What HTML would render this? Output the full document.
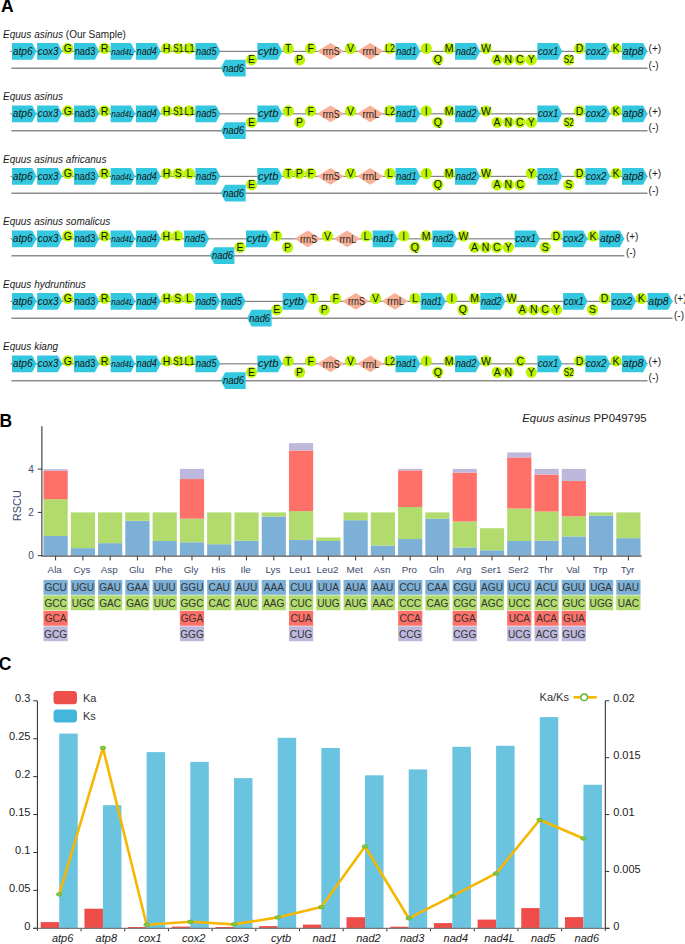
<!DOCTYPE html>
<html><head><meta charset="utf-8"><style>
html,body{margin:0;padding:0;background:#fff;}
svg{display:block;font-family:"Liberation Sans",sans-serif;}
</style></head><body>
<svg width="685" height="944" viewBox="0 0 685 944">
<text x="3" y="37.7" font-size="10" fill="#1a1a1a"><tspan font-style="italic">Equus asinus</tspan><tspan> (Our Sample)</tspan></text>
<line x1="10.5" y1="51.35" x2="647.5" y2="51.35" stroke="#5a5a5a" stroke-width="0.9"/>
<line x1="11.4" y1="68.2" x2="647.5" y2="68.2" stroke="#8c8c8c" stroke-width="1.5"/>
<polygon points="12,43 32.2,43 36.6,51.35 32.2,59.7 12,59.7" fill="#33C8DF"/>
<text x="12.7" y="54.7" font-size="10.5" font-style="italic" textLength="20" lengthAdjust="spacingAndGlyphs" fill="#141414">atp6</text>
<polygon points="37.1,43 57.8,43 62.2,51.35 57.8,59.7 37.1,59.7" fill="#33C8DF"/>
<text x="37.8" y="54.7" font-size="10.5" font-style="italic" textLength="20.5" lengthAdjust="spacingAndGlyphs" fill="#141414">cox3</text>
<circle cx="67.8" cy="48.45" r="5.6" fill="#BCF500"/>
<text x="67.8" y="52.05" font-size="10.5" text-anchor="middle" fill="#141414">G</text>
<polygon points="74,43 94.8,43 99.2,51.35 94.8,59.7 74,59.7" fill="#33C8DF"/>
<text x="74.7" y="54.7" font-size="10.5" font-style="normal" textLength="20.6" lengthAdjust="spacingAndGlyphs" fill="#141414">nad3</text>
<circle cx="104.5" cy="48.45" r="5.6" fill="#BCF500"/>
<text x="104.5" y="52.05" font-size="10.5" text-anchor="middle" fill="#141414">R</text>
<polygon points="110.6,43 130.9,43 135.3,51.35 130.9,59.7 110.6,59.7" fill="#33C8DF"/>
<text x="111.3" y="54.7" font-size="9" font-style="italic" textLength="22.2" lengthAdjust="spacingAndGlyphs" fill="#141414">nad4L</text>
<polygon points="135.9,43 156.4,43 160.8,51.35 156.4,59.7 135.9,59.7" fill="#33C8DF"/>
<text x="136.6" y="54.7" font-size="10.5" font-style="italic" textLength="20.3" lengthAdjust="spacingAndGlyphs" fill="#141414">nad4</text>
<circle cx="166.6" cy="48.45" r="5.6" fill="#BCF500"/>
<text x="166.6" y="52.05" font-size="10.5" text-anchor="middle" fill="#141414">H</text>
<circle cx="178.2" cy="48.45" r="5.6" fill="#BCF500"/>
<text x="173.3" y="52.05" font-size="11" textLength="10" lengthAdjust="spacingAndGlyphs" fill="#141414">S1</text>
<circle cx="189.3" cy="48.45" r="5.6" fill="#BCF500"/>
<text x="184.4" y="52.05" font-size="11" textLength="10" lengthAdjust="spacingAndGlyphs" fill="#141414">L1</text>
<polygon points="195.4,43 216,43 220.4,51.35 216,59.7 195.4,59.7" fill="#33C8DF"/>
<text x="196.1" y="54.7" font-size="10.5" font-style="italic" textLength="20.4" lengthAdjust="spacingAndGlyphs" fill="#141414">nad5</text>
<polygon points="220.8,68.05 225.2,59.7 245.7,59.7 245.7,76.4 225.2,76.4" fill="#33C8DF"/>
<text x="222.9" y="71.8" font-size="10.5" font-style="italic" textLength="21.3" lengthAdjust="spacingAndGlyphs" fill="#141414">nad6</text>
<circle cx="251.5" cy="59.8" r="5.6" fill="#BCF500"/>
<text x="251.5" y="63.4" font-size="10.5" text-anchor="middle" fill="#141414">E</text>
<polygon points="257.3,43 277.9,43 282.3,51.35 277.9,59.7 257.3,59.7" fill="#33C8DF"/>
<text x="258" y="54.7" font-size="10.5" font-style="italic" textLength="20.4" lengthAdjust="spacingAndGlyphs" fill="#141414">cytb</text>
<circle cx="288.2" cy="48.45" r="5.6" fill="#BCF500"/>
<text x="288.2" y="52.05" font-size="10.5" text-anchor="middle" fill="#141414">T</text>
<circle cx="299.6" cy="59.8" r="5.6" fill="#BCF500"/>
<text x="299.6" y="63.4" font-size="10.5" text-anchor="middle" fill="#141414">P</text>
<circle cx="310.6" cy="48.45" r="5.6" fill="#BCF500"/>
<text x="310.6" y="52.05" font-size="10.5" text-anchor="middle" fill="#141414">F</text>
<polygon points="317.1,51.35 330.55,43 344,51.35 330.55,59.7" fill="#F8B097"/>
<text x="322.85" y="55.1" font-size="10" textLength="16.8" lengthAdjust="spacingAndGlyphs" fill="#222">rrnS</text>
<circle cx="350.6" cy="48.45" r="5.6" fill="#BCF500"/>
<text x="350.6" y="52.05" font-size="10.5" text-anchor="middle" fill="#141414">V</text>
<polygon points="357,51.35 370.2,43 383.4,51.35 370.2,59.7" fill="#F8B097"/>
<text x="362.5" y="55.1" font-size="10" textLength="16.8" lengthAdjust="spacingAndGlyphs" fill="#222">rrnL</text>
<circle cx="389.8" cy="48.45" r="5.6" fill="#BCF500"/>
<text x="384.9" y="52.05" font-size="11" textLength="10" lengthAdjust="spacingAndGlyphs" fill="#141414">L2</text>
<polygon points="395.5,43 416,43 420.4,51.35 416,59.7 395.5,59.7" fill="#33C8DF"/>
<text x="396.2" y="54.7" font-size="10.5" font-style="italic" textLength="20.3" lengthAdjust="spacingAndGlyphs" fill="#141414">nad1</text>
<circle cx="426.3" cy="48.45" r="5.6" fill="#BCF500"/>
<text x="426.3" y="52.05" font-size="10.5" text-anchor="middle" fill="#141414">I</text>
<circle cx="437.8" cy="59.8" r="5.6" fill="#BCF500"/>
<text x="437.8" y="63.4" font-size="10.5" text-anchor="middle" fill="#141414">Q</text>
<circle cx="449.1" cy="48.45" r="5.6" fill="#BCF500"/>
<text x="449.1" y="52.05" font-size="10.5" text-anchor="middle" fill="#141414">M</text>
<polygon points="455,43 475.8,43 480.2,51.35 475.8,59.7 455,59.7" fill="#33C8DF"/>
<text x="455.7" y="54.7" font-size="10.5" font-style="italic" textLength="20.6" lengthAdjust="spacingAndGlyphs" fill="#141414">nad2</text>
<circle cx="486" cy="48.45" r="5.6" fill="#BCF500"/>
<text x="486" y="52.05" font-size="10.5" text-anchor="middle" fill="#141414">W</text>
<circle cx="497.1" cy="59.8" r="5.6" fill="#BCF500"/>
<text x="497.1" y="63.4" font-size="10.5" text-anchor="middle" fill="#141414">A</text>
<circle cx="508.4" cy="59.8" r="5.6" fill="#BCF500"/>
<text x="508.4" y="63.4" font-size="10.5" text-anchor="middle" fill="#141414">N</text>
<circle cx="519.9" cy="59.8" r="5.6" fill="#BCF500"/>
<text x="519.9" y="63.4" font-size="10.5" text-anchor="middle" fill="#141414">C</text>
<circle cx="531.3" cy="59.8" r="5.6" fill="#BCF500"/>
<text x="531.3" y="63.4" font-size="10.5" text-anchor="middle" fill="#141414">Y</text>
<polygon points="537.3,43 557.9,43 562.3,51.35 557.9,59.7 537.3,59.7" fill="#33C8DF"/>
<text x="538" y="54.7" font-size="10.5" font-style="italic" textLength="20.4" lengthAdjust="spacingAndGlyphs" fill="#141414">cox1</text>
<circle cx="568.7" cy="59.8" r="5.6" fill="#BCF500"/>
<text x="563.8" y="63.4" font-size="11" textLength="10" lengthAdjust="spacingAndGlyphs" fill="#141414">S2</text>
<circle cx="579.5" cy="48.45" r="5.6" fill="#BCF500"/>
<text x="579.5" y="52.05" font-size="10.5" text-anchor="middle" fill="#141414">D</text>
<polygon points="585.3,43 605.9,43 610.3,51.35 605.9,59.7 585.3,59.7" fill="#33C8DF"/>
<text x="586" y="54.7" font-size="10.5" font-style="italic" textLength="20.4" lengthAdjust="spacingAndGlyphs" fill="#141414">cox2</text>
<circle cx="616.1" cy="48.45" r="5.6" fill="#BCF500"/>
<text x="616.1" y="52.05" font-size="10.5" text-anchor="middle" fill="#141414">K</text>
<polygon points="622,43 643.1,43 647.5,51.35 643.1,59.7 622,59.7" fill="#33C8DF"/>
<text x="622.7" y="54.7" font-size="10.5" font-style="italic" textLength="20.9" lengthAdjust="spacingAndGlyphs" fill="#141414">atp8</text>
<text x="648.6" y="52.1" font-size="10" fill="#1a1a1a">(+)</text>
<text x="648.6" y="68.8" font-size="10" fill="#1a1a1a">(-)</text>
<text x="3" y="100.2" font-size="10" fill="#1a1a1a"><tspan font-style="italic">Equus asinus</tspan></text>
<line x1="10.5" y1="113.85" x2="647.5" y2="113.85" stroke="#5a5a5a" stroke-width="0.9"/>
<line x1="11.4" y1="130.7" x2="647.5" y2="130.7" stroke="#8c8c8c" stroke-width="1.5"/>
<polygon points="12,105.5 32.2,105.5 36.6,113.85 32.2,122.2 12,122.2" fill="#33C8DF"/>
<text x="12.7" y="117.2" font-size="10.5" font-style="italic" textLength="20" lengthAdjust="spacingAndGlyphs" fill="#141414">atp6</text>
<polygon points="37.1,105.5 57.8,105.5 62.2,113.85 57.8,122.2 37.1,122.2" fill="#33C8DF"/>
<text x="37.8" y="117.2" font-size="10.5" font-style="italic" textLength="20.5" lengthAdjust="spacingAndGlyphs" fill="#141414">cox3</text>
<circle cx="67.8" cy="110.95" r="5.6" fill="#BCF500"/>
<text x="67.8" y="114.55" font-size="10.5" text-anchor="middle" fill="#141414">G</text>
<polygon points="74,105.5 94.8,105.5 99.2,113.85 94.8,122.2 74,122.2" fill="#33C8DF"/>
<text x="74.7" y="117.2" font-size="10.5" font-style="normal" textLength="20.6" lengthAdjust="spacingAndGlyphs" fill="#141414">nad3</text>
<circle cx="104.5" cy="110.95" r="5.6" fill="#BCF500"/>
<text x="104.5" y="114.55" font-size="10.5" text-anchor="middle" fill="#141414">R</text>
<polygon points="110.6,105.5 130.9,105.5 135.3,113.85 130.9,122.2 110.6,122.2" fill="#33C8DF"/>
<text x="111.3" y="117.2" font-size="9" font-style="italic" textLength="22.2" lengthAdjust="spacingAndGlyphs" fill="#141414">nad4L</text>
<polygon points="135.9,105.5 156.4,105.5 160.8,113.85 156.4,122.2 135.9,122.2" fill="#33C8DF"/>
<text x="136.6" y="117.2" font-size="10.5" font-style="italic" textLength="20.3" lengthAdjust="spacingAndGlyphs" fill="#141414">nad4</text>
<circle cx="166.6" cy="110.95" r="5.6" fill="#BCF500"/>
<text x="166.6" y="114.55" font-size="10.5" text-anchor="middle" fill="#141414">H</text>
<circle cx="178.2" cy="110.95" r="5.6" fill="#BCF500"/>
<text x="173.3" y="114.55" font-size="11" textLength="10" lengthAdjust="spacingAndGlyphs" fill="#141414">S1</text>
<circle cx="189.3" cy="110.95" r="5.6" fill="#BCF500"/>
<text x="184.4" y="114.55" font-size="11" textLength="10" lengthAdjust="spacingAndGlyphs" fill="#141414">L1</text>
<polygon points="195.4,105.5 216,105.5 220.4,113.85 216,122.2 195.4,122.2" fill="#33C8DF"/>
<text x="196.1" y="117.2" font-size="10.5" font-style="italic" textLength="20.4" lengthAdjust="spacingAndGlyphs" fill="#141414">nad5</text>
<polygon points="220.8,130.55 225.2,122.2 245.7,122.2 245.7,138.9 225.2,138.9" fill="#33C8DF"/>
<text x="222.9" y="134.3" font-size="10.5" font-style="italic" textLength="21.3" lengthAdjust="spacingAndGlyphs" fill="#141414">nad6</text>
<circle cx="251.5" cy="122.3" r="5.6" fill="#BCF500"/>
<text x="251.5" y="125.9" font-size="10.5" text-anchor="middle" fill="#141414">E</text>
<polygon points="257.3,105.5 277.9,105.5 282.3,113.85 277.9,122.2 257.3,122.2" fill="#33C8DF"/>
<text x="258" y="117.2" font-size="10.5" font-style="italic" textLength="20.4" lengthAdjust="spacingAndGlyphs" fill="#141414">cytb</text>
<circle cx="288.2" cy="110.95" r="5.6" fill="#BCF500"/>
<text x="288.2" y="114.55" font-size="10.5" text-anchor="middle" fill="#141414">T</text>
<circle cx="299.6" cy="122.3" r="5.6" fill="#BCF500"/>
<text x="299.6" y="125.9" font-size="10.5" text-anchor="middle" fill="#141414">P</text>
<circle cx="310.6" cy="110.95" r="5.6" fill="#BCF500"/>
<text x="310.6" y="114.55" font-size="10.5" text-anchor="middle" fill="#141414">F</text>
<polygon points="317.1,113.85 330.55,105.5 344,113.85 330.55,122.2" fill="#F8B097"/>
<text x="322.85" y="117.6" font-size="10" textLength="16.8" lengthAdjust="spacingAndGlyphs" fill="#222">rrnS</text>
<circle cx="350.6" cy="110.95" r="5.6" fill="#BCF500"/>
<text x="350.6" y="114.55" font-size="10.5" text-anchor="middle" fill="#141414">V</text>
<polygon points="357,113.85 370.2,105.5 383.4,113.85 370.2,122.2" fill="#F8B097"/>
<text x="362.5" y="117.6" font-size="10" textLength="16.8" lengthAdjust="spacingAndGlyphs" fill="#222">rrnL</text>
<circle cx="389.8" cy="110.95" r="5.6" fill="#BCF500"/>
<text x="384.9" y="114.55" font-size="11" textLength="10" lengthAdjust="spacingAndGlyphs" fill="#141414">L2</text>
<polygon points="395.5,105.5 416,105.5 420.4,113.85 416,122.2 395.5,122.2" fill="#33C8DF"/>
<text x="396.2" y="117.2" font-size="10.5" font-style="italic" textLength="20.3" lengthAdjust="spacingAndGlyphs" fill="#141414">nad1</text>
<circle cx="426.3" cy="110.95" r="5.6" fill="#BCF500"/>
<text x="426.3" y="114.55" font-size="10.5" text-anchor="middle" fill="#141414">I</text>
<circle cx="437.8" cy="122.3" r="5.6" fill="#BCF500"/>
<text x="437.8" y="125.9" font-size="10.5" text-anchor="middle" fill="#141414">Q</text>
<circle cx="449.1" cy="110.95" r="5.6" fill="#BCF500"/>
<text x="449.1" y="114.55" font-size="10.5" text-anchor="middle" fill="#141414">M</text>
<polygon points="455,105.5 475.8,105.5 480.2,113.85 475.8,122.2 455,122.2" fill="#33C8DF"/>
<text x="455.7" y="117.2" font-size="10.5" font-style="italic" textLength="20.6" lengthAdjust="spacingAndGlyphs" fill="#141414">nad2</text>
<circle cx="486" cy="110.95" r="5.6" fill="#BCF500"/>
<text x="486" y="114.55" font-size="10.5" text-anchor="middle" fill="#141414">W</text>
<circle cx="497.1" cy="122.3" r="5.6" fill="#BCF500"/>
<text x="497.1" y="125.9" font-size="10.5" text-anchor="middle" fill="#141414">A</text>
<circle cx="508.4" cy="122.3" r="5.6" fill="#BCF500"/>
<text x="508.4" y="125.9" font-size="10.5" text-anchor="middle" fill="#141414">N</text>
<circle cx="519.9" cy="122.3" r="5.6" fill="#BCF500"/>
<text x="519.9" y="125.9" font-size="10.5" text-anchor="middle" fill="#141414">C</text>
<circle cx="531.3" cy="122.3" r="5.6" fill="#BCF500"/>
<text x="531.3" y="125.9" font-size="10.5" text-anchor="middle" fill="#141414">Y</text>
<polygon points="537.3,105.5 557.9,105.5 562.3,113.85 557.9,122.2 537.3,122.2" fill="#33C8DF"/>
<text x="538" y="117.2" font-size="10.5" font-style="italic" textLength="20.4" lengthAdjust="spacingAndGlyphs" fill="#141414">cox1</text>
<circle cx="568.7" cy="122.3" r="5.6" fill="#BCF500"/>
<text x="563.8" y="125.9" font-size="11" textLength="10" lengthAdjust="spacingAndGlyphs" fill="#141414">S2</text>
<circle cx="579.5" cy="110.95" r="5.6" fill="#BCF500"/>
<text x="579.5" y="114.55" font-size="10.5" text-anchor="middle" fill="#141414">D</text>
<polygon points="585.3,105.5 605.9,105.5 610.3,113.85 605.9,122.2 585.3,122.2" fill="#33C8DF"/>
<text x="586" y="117.2" font-size="10.5" font-style="italic" textLength="20.4" lengthAdjust="spacingAndGlyphs" fill="#141414">cox2</text>
<circle cx="616.1" cy="110.95" r="5.6" fill="#BCF500"/>
<text x="616.1" y="114.55" font-size="10.5" text-anchor="middle" fill="#141414">K</text>
<polygon points="622,105.5 643.1,105.5 647.5,113.85 643.1,122.2 622,122.2" fill="#33C8DF"/>
<text x="622.7" y="117.2" font-size="10.5" font-style="italic" textLength="20.9" lengthAdjust="spacingAndGlyphs" fill="#141414">atp8</text>
<text x="648.6" y="114.6" font-size="10" fill="#1a1a1a">(+)</text>
<text x="648.6" y="131.3" font-size="10" fill="#1a1a1a">(-)</text>
<text x="3" y="162.7" font-size="10" fill="#1a1a1a"><tspan font-style="italic">Equus asinus africanus</tspan></text>
<line x1="10.5" y1="176.35" x2="647.5" y2="176.35" stroke="#5a5a5a" stroke-width="0.9"/>
<line x1="11.4" y1="193.2" x2="647.5" y2="193.2" stroke="#8c8c8c" stroke-width="1.5"/>
<polygon points="12,168 32.2,168 36.6,176.35 32.2,184.7 12,184.7" fill="#33C8DF"/>
<text x="12.7" y="179.7" font-size="10.5" font-style="italic" textLength="20" lengthAdjust="spacingAndGlyphs" fill="#141414">atp6</text>
<polygon points="37.1,168 57.8,168 62.2,176.35 57.8,184.7 37.1,184.7" fill="#33C8DF"/>
<text x="37.8" y="179.7" font-size="10.5" font-style="italic" textLength="20.5" lengthAdjust="spacingAndGlyphs" fill="#141414">cox3</text>
<circle cx="67.8" cy="173.45" r="5.6" fill="#BCF500"/>
<text x="67.8" y="177.05" font-size="10.5" text-anchor="middle" fill="#141414">G</text>
<polygon points="74,168 94.8,168 99.2,176.35 94.8,184.7 74,184.7" fill="#33C8DF"/>
<text x="74.7" y="179.7" font-size="10.5" font-style="normal" textLength="20.6" lengthAdjust="spacingAndGlyphs" fill="#141414">nad3</text>
<circle cx="104.5" cy="173.45" r="5.6" fill="#BCF500"/>
<text x="104.5" y="177.05" font-size="10.5" text-anchor="middle" fill="#141414">R</text>
<polygon points="110.6,168 130.9,168 135.3,176.35 130.9,184.7 110.6,184.7" fill="#33C8DF"/>
<text x="111.3" y="179.7" font-size="9" font-style="italic" textLength="22.2" lengthAdjust="spacingAndGlyphs" fill="#141414">nad4L</text>
<polygon points="135.9,168 156.4,168 160.8,176.35 156.4,184.7 135.9,184.7" fill="#33C8DF"/>
<text x="136.6" y="179.7" font-size="10.5" font-style="italic" textLength="20.3" lengthAdjust="spacingAndGlyphs" fill="#141414">nad4</text>
<circle cx="166.6" cy="173.45" r="5.6" fill="#BCF500"/>
<text x="166.6" y="177.05" font-size="10.5" text-anchor="middle" fill="#141414">H</text>
<circle cx="178.2" cy="173.45" r="5.6" fill="#BCF500"/>
<text x="178.2" y="177.05" font-size="10.5" text-anchor="middle" fill="#141414">S</text>
<circle cx="189.3" cy="173.45" r="5.6" fill="#BCF500"/>
<text x="189.3" y="177.05" font-size="10.5" text-anchor="middle" fill="#141414">L</text>
<polygon points="195.4,168 216,168 220.4,176.35 216,184.7 195.4,184.7" fill="#33C8DF"/>
<text x="196.1" y="179.7" font-size="10.5" font-style="italic" textLength="20.4" lengthAdjust="spacingAndGlyphs" fill="#141414">nad5</text>
<polygon points="220.8,193.05 225.2,184.7 245.7,184.7 245.7,201.4 225.2,201.4" fill="#33C8DF"/>
<text x="222.9" y="196.8" font-size="10.5" font-style="italic" textLength="21.3" lengthAdjust="spacingAndGlyphs" fill="#141414">nad6</text>
<circle cx="251.5" cy="184.8" r="5.6" fill="#BCF500"/>
<text x="251.5" y="188.4" font-size="10.5" text-anchor="middle" fill="#141414">E</text>
<polygon points="257.3,168 277.9,168 282.3,176.35 277.9,184.7 257.3,184.7" fill="#33C8DF"/>
<text x="258" y="179.7" font-size="10.5" font-style="italic" textLength="20.4" lengthAdjust="spacingAndGlyphs" fill="#141414">cytb</text>
<circle cx="288.2" cy="173.45" r="5.6" fill="#BCF500"/>
<text x="288.2" y="177.05" font-size="10.5" text-anchor="middle" fill="#141414">T</text>
<circle cx="299.2" cy="173.45" r="5.6" fill="#BCF500"/>
<text x="299.2" y="177.05" font-size="10.5" text-anchor="middle" fill="#141414">P</text>
<circle cx="310.6" cy="173.45" r="5.6" fill="#BCF500"/>
<text x="310.6" y="177.05" font-size="10.5" text-anchor="middle" fill="#141414">F</text>
<polygon points="317.1,176.35 330.55,168 344,176.35 330.55,184.7" fill="#F8B097"/>
<text x="322.85" y="180.1" font-size="10" textLength="16.8" lengthAdjust="spacingAndGlyphs" fill="#222">rrnS</text>
<circle cx="350.6" cy="173.45" r="5.6" fill="#BCF500"/>
<text x="350.6" y="177.05" font-size="10.5" text-anchor="middle" fill="#141414">V</text>
<polygon points="357,176.35 370.2,168 383.4,176.35 370.2,184.7" fill="#F8B097"/>
<text x="362.5" y="180.1" font-size="10" textLength="16.8" lengthAdjust="spacingAndGlyphs" fill="#222">rrnL</text>
<circle cx="389.8" cy="173.45" r="5.6" fill="#BCF500"/>
<text x="389.8" y="177.05" font-size="10.5" text-anchor="middle" fill="#141414">L</text>
<polygon points="395.5,168 416,168 420.4,176.35 416,184.7 395.5,184.7" fill="#33C8DF"/>
<text x="396.2" y="179.7" font-size="10.5" font-style="italic" textLength="20.3" lengthAdjust="spacingAndGlyphs" fill="#141414">nad1</text>
<circle cx="426.3" cy="173.45" r="5.6" fill="#BCF500"/>
<text x="426.3" y="177.05" font-size="10.5" text-anchor="middle" fill="#141414">I</text>
<circle cx="437.8" cy="184.8" r="5.6" fill="#BCF500"/>
<text x="437.8" y="188.4" font-size="10.5" text-anchor="middle" fill="#141414">Q</text>
<circle cx="449.1" cy="173.45" r="5.6" fill="#BCF500"/>
<text x="449.1" y="177.05" font-size="10.5" text-anchor="middle" fill="#141414">M</text>
<polygon points="455,168 475.8,168 480.2,176.35 475.8,184.7 455,184.7" fill="#33C8DF"/>
<text x="455.7" y="179.7" font-size="10.5" font-style="italic" textLength="20.6" lengthAdjust="spacingAndGlyphs" fill="#141414">nad2</text>
<circle cx="486" cy="173.45" r="5.6" fill="#BCF500"/>
<text x="486" y="177.05" font-size="10.5" text-anchor="middle" fill="#141414">W</text>
<circle cx="497" cy="184.8" r="5.6" fill="#BCF500"/>
<text x="497" y="188.4" font-size="10.5" text-anchor="middle" fill="#141414">A</text>
<circle cx="508.4" cy="184.8" r="5.6" fill="#BCF500"/>
<text x="508.4" y="188.4" font-size="10.5" text-anchor="middle" fill="#141414">N</text>
<circle cx="520" cy="184.8" r="5.6" fill="#BCF500"/>
<text x="520" y="188.4" font-size="10.5" text-anchor="middle" fill="#141414">C</text>
<circle cx="531.3" cy="173.45" r="5.6" fill="#BCF500"/>
<text x="531.3" y="177.05" font-size="10.5" text-anchor="middle" fill="#141414">Y</text>
<polygon points="537.3,168 557.9,168 562.3,176.35 557.9,184.7 537.3,184.7" fill="#33C8DF"/>
<text x="538" y="179.7" font-size="10.5" font-style="italic" textLength="20.4" lengthAdjust="spacingAndGlyphs" fill="#141414">cox1</text>
<circle cx="568.7" cy="184.8" r="5.6" fill="#BCF500"/>
<text x="568.7" y="188.4" font-size="10.5" text-anchor="middle" fill="#141414">S</text>
<circle cx="579.5" cy="173.45" r="5.6" fill="#BCF500"/>
<text x="579.5" y="177.05" font-size="10.5" text-anchor="middle" fill="#141414">D</text>
<polygon points="585.3,168 605.9,168 610.3,176.35 605.9,184.7 585.3,184.7" fill="#33C8DF"/>
<text x="586" y="179.7" font-size="10.5" font-style="italic" textLength="20.4" lengthAdjust="spacingAndGlyphs" fill="#141414">cox2</text>
<circle cx="616.1" cy="173.45" r="5.6" fill="#BCF500"/>
<text x="616.1" y="177.05" font-size="10.5" text-anchor="middle" fill="#141414">K</text>
<polygon points="622,168 643.1,168 647.5,176.35 643.1,184.7 622,184.7" fill="#33C8DF"/>
<text x="622.7" y="179.7" font-size="10.5" font-style="italic" textLength="20.9" lengthAdjust="spacingAndGlyphs" fill="#141414">atp8</text>
<text x="648.6" y="177.1" font-size="10" fill="#1a1a1a">(+)</text>
<text x="648.6" y="193.8" font-size="10" fill="#1a1a1a">(-)</text>
<text x="3" y="225.2" font-size="10" fill="#1a1a1a"><tspan font-style="italic">Equus asinus somalicus</tspan></text>
<line x1="10.5" y1="238.85" x2="624.3" y2="238.85" stroke="#5a5a5a" stroke-width="0.9"/>
<line x1="11.4" y1="255.7" x2="624.3" y2="255.7" stroke="#8c8c8c" stroke-width="1.5"/>
<polygon points="12,230.5 32.2,230.5 36.6,238.85 32.2,247.2 12,247.2" fill="#33C8DF"/>
<text x="12.7" y="242.2" font-size="10.5" font-style="italic" textLength="20" lengthAdjust="spacingAndGlyphs" fill="#141414">atp6</text>
<polygon points="37.1,230.5 57.8,230.5 62.2,238.85 57.8,247.2 37.1,247.2" fill="#33C8DF"/>
<text x="37.8" y="242.2" font-size="10.5" font-style="italic" textLength="20.5" lengthAdjust="spacingAndGlyphs" fill="#141414">cox3</text>
<circle cx="67.8" cy="235.95" r="5.6" fill="#BCF500"/>
<text x="67.8" y="239.55" font-size="10.5" text-anchor="middle" fill="#141414">G</text>
<polygon points="74,230.5 94.8,230.5 99.2,238.85 94.8,247.2 74,247.2" fill="#33C8DF"/>
<text x="74.7" y="242.2" font-size="10.5" font-style="normal" textLength="20.6" lengthAdjust="spacingAndGlyphs" fill="#141414">nad3</text>
<circle cx="104.5" cy="235.95" r="5.6" fill="#BCF500"/>
<text x="104.5" y="239.55" font-size="10.5" text-anchor="middle" fill="#141414">R</text>
<polygon points="110.6,230.5 130.9,230.5 135.3,238.85 130.9,247.2 110.6,247.2" fill="#33C8DF"/>
<text x="111.3" y="242.2" font-size="9" font-style="italic" textLength="22.2" lengthAdjust="spacingAndGlyphs" fill="#141414">nad4L</text>
<polygon points="135.9,230.5 156.4,230.5 160.8,238.85 156.4,247.2 135.9,247.2" fill="#33C8DF"/>
<text x="136.6" y="242.2" font-size="10.5" font-style="italic" textLength="20.3" lengthAdjust="spacingAndGlyphs" fill="#141414">nad4</text>
<circle cx="166.3" cy="235.95" r="5.6" fill="#BCF500"/>
<text x="166.3" y="239.55" font-size="10.5" text-anchor="middle" fill="#141414">H</text>
<circle cx="177.4" cy="235.95" r="5.6" fill="#BCF500"/>
<text x="177.4" y="239.55" font-size="10.5" text-anchor="middle" fill="#141414">L</text>
<polygon points="184.1,230.5 204.8,230.5 209.2,238.85 204.8,247.2 184.1,247.2" fill="#33C8DF"/>
<text x="184.8" y="242.2" font-size="10.5" font-style="italic" textLength="20.5" lengthAdjust="spacingAndGlyphs" fill="#141414">nad5</text>
<polygon points="209.8,255.55 214.2,247.2 234.4,247.2 234.4,263.9 214.2,263.9" fill="#33C8DF"/>
<text x="211.9" y="259.3" font-size="10.5" font-style="italic" textLength="21" lengthAdjust="spacingAndGlyphs" fill="#141414">nad6</text>
<circle cx="239.9" cy="247.3" r="5.6" fill="#BCF500"/>
<text x="239.9" y="250.9" font-size="10.5" text-anchor="middle" fill="#141414">E</text>
<polygon points="246,230.5 266.7,230.5 271.1,238.85 266.7,247.2 246,247.2" fill="#33C8DF"/>
<text x="246.7" y="242.2" font-size="10.5" font-style="italic" textLength="20.5" lengthAdjust="spacingAndGlyphs" fill="#141414">cytb</text>
<circle cx="276.5" cy="235.95" r="5.6" fill="#BCF500"/>
<text x="276.5" y="239.55" font-size="10.5" text-anchor="middle" fill="#141414">T</text>
<circle cx="287.6" cy="247.3" r="5.6" fill="#BCF500"/>
<text x="287.6" y="250.9" font-size="10.5" text-anchor="middle" fill="#141414">P</text>
<polygon points="294.5,238.85 307.75,230.5 321,238.85 307.75,247.2" fill="#F8B097"/>
<text x="300.05" y="242.6" font-size="10" textLength="16.8" lengthAdjust="spacingAndGlyphs" fill="#222">rrnS</text>
<circle cx="327.4" cy="235.95" r="5.6" fill="#BCF500"/>
<text x="327.4" y="239.55" font-size="10.5" text-anchor="middle" fill="#141414">V</text>
<polygon points="333.9,238.85 347.1,230.5 360.3,238.85 347.1,247.2" fill="#F8B097"/>
<text x="339.4" y="242.6" font-size="10" textLength="16.8" lengthAdjust="spacingAndGlyphs" fill="#222">rrnL</text>
<circle cx="366.3" cy="235.95" r="5.6" fill="#BCF500"/>
<text x="366.3" y="239.55" font-size="10.5" text-anchor="middle" fill="#141414">L</text>
<polygon points="372.6,230.5 393.3,230.5 397.7,238.85 393.3,247.2 372.6,247.2" fill="#33C8DF"/>
<text x="373.3" y="242.2" font-size="10.5" font-style="italic" textLength="20.5" lengthAdjust="spacingAndGlyphs" fill="#141414">nad1</text>
<circle cx="403.8" cy="235.95" r="5.6" fill="#BCF500"/>
<text x="403.8" y="239.55" font-size="10.5" text-anchor="middle" fill="#141414">I</text>
<circle cx="414.9" cy="247.3" r="5.6" fill="#BCF500"/>
<text x="414.9" y="250.9" font-size="10.5" text-anchor="middle" fill="#141414">Q</text>
<circle cx="426" cy="235.95" r="5.6" fill="#BCF500"/>
<text x="426" y="239.55" font-size="10.5" text-anchor="middle" fill="#141414">M</text>
<polygon points="432.3,230.5 452.9,230.5 457.3,238.85 452.9,247.2 432.3,247.2" fill="#33C8DF"/>
<text x="433" y="242.2" font-size="10.5" font-style="italic" textLength="20.4" lengthAdjust="spacingAndGlyphs" fill="#141414">nad2</text>
<circle cx="463.4" cy="235.95" r="5.6" fill="#BCF500"/>
<text x="463.4" y="239.55" font-size="10.5" text-anchor="middle" fill="#141414">W</text>
<circle cx="474.4" cy="247.3" r="5.6" fill="#BCF500"/>
<text x="474.4" y="250.9" font-size="10.5" text-anchor="middle" fill="#141414">A</text>
<circle cx="485.6" cy="247.3" r="5.6" fill="#BCF500"/>
<text x="485.6" y="250.9" font-size="10.5" text-anchor="middle" fill="#141414">N</text>
<circle cx="496.9" cy="247.3" r="5.6" fill="#BCF500"/>
<text x="496.9" y="250.9" font-size="10.5" text-anchor="middle" fill="#141414">C</text>
<circle cx="508.3" cy="247.3" r="5.6" fill="#BCF500"/>
<text x="508.3" y="250.9" font-size="10.5" text-anchor="middle" fill="#141414">Y</text>
<polygon points="514.6,230.5 535.5,230.5 539.9,238.85 535.5,247.2 514.6,247.2" fill="#33C8DF"/>
<text x="515.3" y="242.2" font-size="10.5" font-style="italic" textLength="20.7" lengthAdjust="spacingAndGlyphs" fill="#141414">cox1</text>
<circle cx="545.2" cy="247.3" r="5.6" fill="#BCF500"/>
<text x="545.2" y="250.9" font-size="10.5" text-anchor="middle" fill="#141414">S</text>
<circle cx="556.3" cy="235.95" r="5.6" fill="#BCF500"/>
<text x="556.3" y="239.55" font-size="10.5" text-anchor="middle" fill="#141414">D</text>
<polygon points="562.6,230.5 583.2,230.5 587.6,238.85 583.2,247.2 562.6,247.2" fill="#33C8DF"/>
<text x="563.3" y="242.2" font-size="10.5" font-style="italic" textLength="20.4" lengthAdjust="spacingAndGlyphs" fill="#141414">cox2</text>
<circle cx="593.1" cy="235.95" r="5.6" fill="#BCF500"/>
<text x="593.1" y="239.55" font-size="10.5" text-anchor="middle" fill="#141414">K</text>
<polygon points="599.3,230.5 619.9,230.5 624.3,238.85 619.9,247.2 599.3,247.2" fill="#33C8DF"/>
<text x="600" y="242.2" font-size="10.5" font-style="italic" textLength="20.4" lengthAdjust="spacingAndGlyphs" fill="#141414">atp8</text>
<text x="625.9" y="239.6" font-size="10" fill="#1a1a1a">(+)</text>
<text x="625.9" y="256.3" font-size="10" fill="#1a1a1a">(-)</text>
<text x="3" y="287.7" font-size="10" fill="#1a1a1a"><tspan font-style="italic">Equus hydruntinus</tspan></text>
<line x1="10.5" y1="301.35" x2="672.6" y2="301.35" stroke="#5a5a5a" stroke-width="0.9"/>
<line x1="11.4" y1="318.2" x2="672.6" y2="318.2" stroke="#8c8c8c" stroke-width="1.5"/>
<polygon points="12,293 32.2,293 36.6,301.35 32.2,309.7 12,309.7" fill="#33C8DF"/>
<text x="12.7" y="304.7" font-size="10.5" font-style="italic" textLength="20" lengthAdjust="spacingAndGlyphs" fill="#141414">atp6</text>
<polygon points="37.1,293 57.8,293 62.2,301.35 57.8,309.7 37.1,309.7" fill="#33C8DF"/>
<text x="37.8" y="304.7" font-size="10.5" font-style="italic" textLength="20.5" lengthAdjust="spacingAndGlyphs" fill="#141414">cox3</text>
<circle cx="67.8" cy="298.45" r="5.6" fill="#BCF500"/>
<text x="67.8" y="302.05" font-size="10.5" text-anchor="middle" fill="#141414">G</text>
<polygon points="74,293 94.8,293 99.2,301.35 94.8,309.7 74,309.7" fill="#33C8DF"/>
<text x="74.7" y="304.7" font-size="10.5" font-style="normal" textLength="20.6" lengthAdjust="spacingAndGlyphs" fill="#141414">nad3</text>
<circle cx="104.5" cy="298.45" r="5.6" fill="#BCF500"/>
<text x="104.5" y="302.05" font-size="10.5" text-anchor="middle" fill="#141414">R</text>
<polygon points="110.6,293 130.9,293 135.3,301.35 130.9,309.7 110.6,309.7" fill="#33C8DF"/>
<text x="111.3" y="304.7" font-size="9" font-style="italic" textLength="22.2" lengthAdjust="spacingAndGlyphs" fill="#141414">nad4L</text>
<polygon points="135.9,293 156.4,293 160.8,301.35 156.4,309.7 135.9,309.7" fill="#33C8DF"/>
<text x="136.6" y="304.7" font-size="10.5" font-style="italic" textLength="20.3" lengthAdjust="spacingAndGlyphs" fill="#141414">nad4</text>
<circle cx="166.6" cy="298.45" r="5.6" fill="#BCF500"/>
<text x="166.6" y="302.05" font-size="10.5" text-anchor="middle" fill="#141414">H</text>
<circle cx="177.7" cy="298.45" r="5.6" fill="#BCF500"/>
<text x="177.7" y="302.05" font-size="10.5" text-anchor="middle" fill="#141414">S</text>
<circle cx="188.8" cy="298.45" r="5.6" fill="#BCF500"/>
<text x="188.8" y="302.05" font-size="10.5" text-anchor="middle" fill="#141414">L</text>
<polygon points="195.2,293 215.8,293 220.2,301.35 215.8,309.7 195.2,309.7" fill="#33C8DF"/>
<text x="195.9" y="304.7" font-size="10.5" font-style="italic" textLength="20.4" lengthAdjust="spacingAndGlyphs" fill="#141414">nad5</text>
<polygon points="220.7,293 241.3,293 245.7,301.35 241.3,309.7 220.7,309.7" fill="#33C8DF"/>
<text x="221.4" y="304.7" font-size="10.5" font-style="italic" textLength="20.4" lengthAdjust="spacingAndGlyphs" fill="#141414">nad5</text>
<polygon points="247.1,318.05 251.5,309.7 271.6,309.7 271.6,326.4 251.5,326.4" fill="#33C8DF"/>
<text x="249.2" y="321.8" font-size="10.5" font-style="italic" textLength="20.9" lengthAdjust="spacingAndGlyphs" fill="#141414">nad6</text>
<circle cx="276.8" cy="309.8" r="5.6" fill="#BCF500"/>
<text x="276.8" y="313.4" font-size="10.5" text-anchor="middle" fill="#141414">E</text>
<polygon points="282.6,293 303.3,293 307.7,301.35 303.3,309.7 282.6,309.7" fill="#33C8DF"/>
<text x="283.3" y="304.7" font-size="10.5" font-style="italic" textLength="20.5" lengthAdjust="spacingAndGlyphs" fill="#141414">cytb</text>
<circle cx="313.1" cy="298.45" r="5.6" fill="#BCF500"/>
<text x="313.1" y="302.05" font-size="10.5" text-anchor="middle" fill="#141414">T</text>
<circle cx="324.2" cy="309.8" r="5.6" fill="#BCF500"/>
<text x="324.2" y="313.4" font-size="10.5" text-anchor="middle" fill="#141414">P</text>
<circle cx="335.6" cy="298.45" r="5.6" fill="#BCF500"/>
<text x="335.6" y="302.05" font-size="10.5" text-anchor="middle" fill="#141414">F</text>
<polygon points="342.2,301.35 355.8,293 369.4,301.35 355.8,309.7" fill="#F8B097"/>
<text x="348.1" y="305.1" font-size="10" textLength="16.8" lengthAdjust="spacingAndGlyphs" fill="#222">rrnS</text>
<circle cx="375.5" cy="298.45" r="5.6" fill="#BCF500"/>
<text x="375.5" y="302.05" font-size="10.5" text-anchor="middle" fill="#141414">V</text>
<polygon points="381.6,301.35 394.9,293 408.2,301.35 394.9,309.7" fill="#F8B097"/>
<text x="387.2" y="305.1" font-size="10" textLength="16.8" lengthAdjust="spacingAndGlyphs" fill="#222">rrnL</text>
<circle cx="414.9" cy="298.45" r="5.6" fill="#BCF500"/>
<text x="414.9" y="302.05" font-size="10.5" text-anchor="middle" fill="#141414">L</text>
<polygon points="420.7,293 441.4,293 445.8,301.35 441.4,309.7 420.7,309.7" fill="#33C8DF"/>
<text x="421.4" y="304.7" font-size="10.5" font-style="italic" textLength="20.5" lengthAdjust="spacingAndGlyphs" fill="#141414">nad1</text>
<circle cx="451.8" cy="298.45" r="5.6" fill="#BCF500"/>
<text x="451.8" y="302.05" font-size="10.5" text-anchor="middle" fill="#141414">I</text>
<circle cx="462.9" cy="309.8" r="5.6" fill="#BCF500"/>
<text x="462.9" y="313.4" font-size="10.5" text-anchor="middle" fill="#141414">Q</text>
<circle cx="474.5" cy="298.45" r="5.6" fill="#BCF500"/>
<text x="474.5" y="302.05" font-size="10.5" text-anchor="middle" fill="#141414">M</text>
<polygon points="480.3,293 501,293 505.4,301.35 501,309.7 480.3,309.7" fill="#33C8DF"/>
<text x="481" y="304.7" font-size="10.5" font-style="italic" textLength="20.5" lengthAdjust="spacingAndGlyphs" fill="#141414">nad2</text>
<circle cx="511.6" cy="298.45" r="5.6" fill="#BCF500"/>
<text x="511.6" y="302.05" font-size="10.5" text-anchor="middle" fill="#141414">W</text>
<circle cx="522.2" cy="309.8" r="5.6" fill="#BCF500"/>
<text x="522.2" y="313.4" font-size="10.5" text-anchor="middle" fill="#141414">A</text>
<circle cx="533.7" cy="309.8" r="5.6" fill="#BCF500"/>
<text x="533.7" y="313.4" font-size="10.5" text-anchor="middle" fill="#141414">N</text>
<circle cx="545" cy="309.8" r="5.6" fill="#BCF500"/>
<text x="545" y="313.4" font-size="10.5" text-anchor="middle" fill="#141414">C</text>
<circle cx="556.5" cy="309.8" r="5.6" fill="#BCF500"/>
<text x="556.5" y="313.4" font-size="10.5" text-anchor="middle" fill="#141414">Y</text>
<polygon points="563,293 583.2,293 587.6,301.35 583.2,309.7 563,309.7" fill="#33C8DF"/>
<text x="563.7" y="304.7" font-size="10.5" font-style="italic" textLength="20" lengthAdjust="spacingAndGlyphs" fill="#141414">cox1</text>
<circle cx="592.6" cy="309.8" r="5.6" fill="#BCF500"/>
<text x="592.6" y="313.4" font-size="10.5" text-anchor="middle" fill="#141414">S</text>
<circle cx="604.6" cy="298.45" r="5.6" fill="#BCF500"/>
<text x="604.6" y="302.05" font-size="10.5" text-anchor="middle" fill="#141414">D</text>
<polygon points="611,293 631.7,293 636.1,301.35 631.7,309.7 611,309.7" fill="#33C8DF"/>
<text x="611.7" y="304.7" font-size="10.5" font-style="italic" textLength="20.5" lengthAdjust="spacingAndGlyphs" fill="#141414">cox2</text>
<circle cx="641.3" cy="298.45" r="5.6" fill="#BCF500"/>
<text x="641.3" y="302.05" font-size="10.5" text-anchor="middle" fill="#141414">K</text>
<polygon points="647.6,293 668.2,293 672.6,301.35 668.2,309.7 647.6,309.7" fill="#33C8DF"/>
<text x="648.3" y="304.7" font-size="10.5" font-style="italic" textLength="20.4" lengthAdjust="spacingAndGlyphs" fill="#141414">atp8</text>
<text x="674" y="302.1" font-size="10" fill="#1a1a1a">(+)</text>
<text x="674" y="318.8" font-size="10" fill="#1a1a1a">(-)</text>
<text x="3" y="350.2" font-size="10" fill="#1a1a1a"><tspan font-style="italic">Equus kiang</tspan></text>
<line x1="10.5" y1="363.85" x2="647.5" y2="363.85" stroke="#5a5a5a" stroke-width="0.9"/>
<line x1="11.4" y1="380.7" x2="647.5" y2="380.7" stroke="#8c8c8c" stroke-width="1.5"/>
<polygon points="12,355.5 32.2,355.5 36.6,363.85 32.2,372.2 12,372.2" fill="#33C8DF"/>
<text x="12.7" y="367.2" font-size="10.5" font-style="italic" textLength="20" lengthAdjust="spacingAndGlyphs" fill="#141414">atp6</text>
<polygon points="37.1,355.5 57.8,355.5 62.2,363.85 57.8,372.2 37.1,372.2" fill="#33C8DF"/>
<text x="37.8" y="367.2" font-size="10.5" font-style="italic" textLength="20.5" lengthAdjust="spacingAndGlyphs" fill="#141414">cox3</text>
<circle cx="67.8" cy="360.95" r="5.6" fill="#BCF500"/>
<text x="67.8" y="364.55" font-size="10.5" text-anchor="middle" fill="#141414">G</text>
<polygon points="74,355.5 94.8,355.5 99.2,363.85 94.8,372.2 74,372.2" fill="#33C8DF"/>
<text x="74.7" y="367.2" font-size="10.5" font-style="normal" textLength="20.6" lengthAdjust="spacingAndGlyphs" fill="#141414">nad3</text>
<circle cx="104.5" cy="360.95" r="5.6" fill="#BCF500"/>
<text x="104.5" y="364.55" font-size="10.5" text-anchor="middle" fill="#141414">R</text>
<polygon points="110.6,355.5 130.9,355.5 135.3,363.85 130.9,372.2 110.6,372.2" fill="#33C8DF"/>
<text x="111.3" y="367.2" font-size="9" font-style="italic" textLength="22.2" lengthAdjust="spacingAndGlyphs" fill="#141414">nad4L</text>
<polygon points="135.9,355.5 156.4,355.5 160.8,363.85 156.4,372.2 135.9,372.2" fill="#33C8DF"/>
<text x="136.6" y="367.2" font-size="10.5" font-style="italic" textLength="20.3" lengthAdjust="spacingAndGlyphs" fill="#141414">nad4</text>
<circle cx="166.6" cy="360.95" r="5.6" fill="#BCF500"/>
<text x="166.6" y="364.55" font-size="10.5" text-anchor="middle" fill="#141414">H</text>
<circle cx="178.2" cy="360.95" r="5.6" fill="#BCF500"/>
<text x="173.3" y="364.55" font-size="11" textLength="10" lengthAdjust="spacingAndGlyphs" fill="#141414">S1</text>
<circle cx="189.3" cy="360.95" r="5.6" fill="#BCF500"/>
<text x="184.4" y="364.55" font-size="11" textLength="10" lengthAdjust="spacingAndGlyphs" fill="#141414">L1</text>
<polygon points="195.4,355.5 216,355.5 220.4,363.85 216,372.2 195.4,372.2" fill="#33C8DF"/>
<text x="196.1" y="367.2" font-size="10.5" font-style="italic" textLength="20.4" lengthAdjust="spacingAndGlyphs" fill="#141414">nad5</text>
<polygon points="220.8,380.55 225.2,372.2 245.7,372.2 245.7,388.9 225.2,388.9" fill="#33C8DF"/>
<text x="222.9" y="384.3" font-size="10.5" font-style="italic" textLength="21.3" lengthAdjust="spacingAndGlyphs" fill="#141414">nad6</text>
<circle cx="251.5" cy="372.3" r="5.6" fill="#BCF500"/>
<text x="251.5" y="375.9" font-size="10.5" text-anchor="middle" fill="#141414">E</text>
<polygon points="257.3,355.5 277.9,355.5 282.3,363.85 277.9,372.2 257.3,372.2" fill="#33C8DF"/>
<text x="258" y="367.2" font-size="10.5" font-style="italic" textLength="20.4" lengthAdjust="spacingAndGlyphs" fill="#141414">cytb</text>
<circle cx="288.2" cy="360.95" r="5.6" fill="#BCF500"/>
<text x="288.2" y="364.55" font-size="10.5" text-anchor="middle" fill="#141414">T</text>
<circle cx="299.6" cy="372.3" r="5.6" fill="#BCF500"/>
<text x="299.6" y="375.9" font-size="10.5" text-anchor="middle" fill="#141414">P</text>
<circle cx="310.6" cy="360.95" r="5.6" fill="#BCF500"/>
<text x="310.6" y="364.55" font-size="10.5" text-anchor="middle" fill="#141414">F</text>
<polygon points="317.1,363.85 330.55,355.5 344,363.85 330.55,372.2" fill="#F8B097"/>
<text x="322.85" y="367.6" font-size="10" textLength="16.8" lengthAdjust="spacingAndGlyphs" fill="#222">rrnS</text>
<circle cx="350.6" cy="360.95" r="5.6" fill="#BCF500"/>
<text x="350.6" y="364.55" font-size="10.5" text-anchor="middle" fill="#141414">V</text>
<polygon points="357,363.85 370.2,355.5 383.4,363.85 370.2,372.2" fill="#F8B097"/>
<text x="362.5" y="367.6" font-size="10" textLength="16.8" lengthAdjust="spacingAndGlyphs" fill="#222">rrnL</text>
<circle cx="389.8" cy="360.95" r="5.6" fill="#BCF500"/>
<text x="384.9" y="364.55" font-size="11" textLength="10" lengthAdjust="spacingAndGlyphs" fill="#141414">L2</text>
<polygon points="395.5,355.5 416,355.5 420.4,363.85 416,372.2 395.5,372.2" fill="#33C8DF"/>
<text x="396.2" y="367.2" font-size="10.5" font-style="italic" textLength="20.3" lengthAdjust="spacingAndGlyphs" fill="#141414">nad1</text>
<circle cx="426.3" cy="360.95" r="5.6" fill="#BCF500"/>
<text x="426.3" y="364.55" font-size="10.5" text-anchor="middle" fill="#141414">I</text>
<circle cx="437.8" cy="372.3" r="5.6" fill="#BCF500"/>
<text x="437.8" y="375.9" font-size="10.5" text-anchor="middle" fill="#141414">Q</text>
<circle cx="449.1" cy="360.95" r="5.6" fill="#BCF500"/>
<text x="449.1" y="364.55" font-size="10.5" text-anchor="middle" fill="#141414">M</text>
<polygon points="455,355.5 475.8,355.5 480.2,363.85 475.8,372.2 455,372.2" fill="#33C8DF"/>
<text x="455.7" y="367.2" font-size="10.5" font-style="italic" textLength="20.6" lengthAdjust="spacingAndGlyphs" fill="#141414">nad2</text>
<circle cx="486" cy="360.95" r="5.6" fill="#BCF500"/>
<text x="486" y="364.55" font-size="10.5" text-anchor="middle" fill="#141414">W</text>
<circle cx="497.2" cy="372.3" r="5.6" fill="#BCF500"/>
<text x="497.2" y="375.9" font-size="10.5" text-anchor="middle" fill="#141414">A</text>
<circle cx="508.3" cy="372.3" r="5.6" fill="#BCF500"/>
<text x="508.3" y="375.9" font-size="10.5" text-anchor="middle" fill="#141414">N</text>
<circle cx="520.2" cy="360.95" r="5.6" fill="#BCF500"/>
<text x="520.2" y="364.55" font-size="10.5" text-anchor="middle" fill="#141414">C</text>
<circle cx="531.3" cy="372.3" r="5.6" fill="#BCF500"/>
<text x="531.3" y="375.9" font-size="10.5" text-anchor="middle" fill="#141414">Y</text>
<polygon points="537.3,355.5 557.9,355.5 562.3,363.85 557.9,372.2 537.3,372.2" fill="#33C8DF"/>
<text x="538" y="367.2" font-size="10.5" font-style="italic" textLength="20.4" lengthAdjust="spacingAndGlyphs" fill="#141414">cox1</text>
<circle cx="568.7" cy="372.3" r="5.6" fill="#BCF500"/>
<text x="563.8" y="375.9" font-size="11" textLength="10" lengthAdjust="spacingAndGlyphs" fill="#141414">S2</text>
<circle cx="579.5" cy="360.95" r="5.6" fill="#BCF500"/>
<text x="579.5" y="364.55" font-size="10.5" text-anchor="middle" fill="#141414">D</text>
<polygon points="585.3,355.5 605.9,355.5 610.3,363.85 605.9,372.2 585.3,372.2" fill="#33C8DF"/>
<text x="586" y="367.2" font-size="10.5" font-style="italic" textLength="20.4" lengthAdjust="spacingAndGlyphs" fill="#141414">cox2</text>
<circle cx="616.1" cy="360.95" r="5.6" fill="#BCF500"/>
<text x="616.1" y="364.55" font-size="10.5" text-anchor="middle" fill="#141414">K</text>
<polygon points="622,355.5 643.1,355.5 647.5,363.85 643.1,372.2 622,372.2" fill="#33C8DF"/>
<text x="622.7" y="367.2" font-size="10.5" font-style="italic" textLength="20.9" lengthAdjust="spacingAndGlyphs" fill="#141414">atp8</text>
<text x="648.6" y="364.6" font-size="10" fill="#1a1a1a">(+)</text>
<text x="648.6" y="381.3" font-size="10" fill="#1a1a1a">(-)</text>
<text x="1.1" y="11.9" font-size="17.5" font-weight="bold" fill="#000">A</text>
<text x="-0.6" y="426.7" font-size="17.5" font-weight="bold" fill="#000">B</text>
<text x="-1.2" y="669.6" font-size="17.5" font-weight="bold" fill="#000">C</text>
<text x="522.3" y="421.8" font-size="11.35" fill="#1a1a1a"><tspan font-style="italic">Equus asinus</tspan> PP049795</text>
<rect x="43.5" y="536" width="24.2" height="19.7" fill="#7DB0D6"/>
<rect x="43.5" y="499.19" width="24.2" height="36.81" fill="#B1DB6C"/>
<rect x="43.5" y="470.62" width="24.2" height="28.58" fill="#FF7168"/>
<rect x="43.5" y="469.1" width="24.2" height="1.52" fill="#BEB9DC"/>
<line x1="55.6" y1="555.7" x2="55.6" y2="560.4" stroke="#333" stroke-width="1"/>
<text x="54.7" y="572.6" font-size="9.8" text-anchor="middle" fill="#3B4B6C">Ala</text>
<rect x="43.5" y="579.9" width="24.2" height="14.9" fill="#7DB0D6"/>
<text x="55.6" y="591.2" font-size="10.1" text-anchor="middle" fill="#333">GCU</text>
<rect x="43.5" y="595.37" width="24.2" height="14.9" fill="#B1DB6C"/>
<text x="55.6" y="606.67" font-size="10.1" text-anchor="middle" fill="#333">GCC</text>
<rect x="43.5" y="610.84" width="24.2" height="14.9" fill="#FF7168"/>
<text x="55.6" y="622.14" font-size="10.1" text-anchor="middle" fill="#333">GCA</text>
<rect x="43.5" y="626.31" width="24.2" height="14.9" fill="#BEB9DC"/>
<text x="55.6" y="637.61" font-size="10.1" text-anchor="middle" fill="#333">GCG</text>
<rect x="70.78" y="548.12" width="24.2" height="7.58" fill="#7DB0D6"/>
<rect x="70.78" y="512.4" width="24.2" height="35.72" fill="#B1DB6C"/>
<line x1="82.88" y1="555.7" x2="82.88" y2="560.4" stroke="#333" stroke-width="1"/>
<text x="81.98" y="572.6" font-size="9.8" text-anchor="middle" fill="#3B4B6C">Cys</text>
<rect x="70.78" y="579.9" width="24.2" height="14.9" fill="#7DB0D6"/>
<text x="82.88" y="591.2" font-size="10.1" text-anchor="middle" fill="#333">UGU</text>
<rect x="70.78" y="595.37" width="24.2" height="14.9" fill="#B1DB6C"/>
<text x="82.88" y="606.67" font-size="10.1" text-anchor="middle" fill="#333">UGC</text>
<rect x="98.05" y="543.14" width="24.2" height="12.56" fill="#7DB0D6"/>
<rect x="98.05" y="512.4" width="24.2" height="30.74" fill="#B1DB6C"/>
<line x1="110.15" y1="555.7" x2="110.15" y2="560.4" stroke="#333" stroke-width="1"/>
<text x="109.25" y="572.6" font-size="9.8" text-anchor="middle" fill="#3B4B6C">Asp</text>
<rect x="98.05" y="579.9" width="24.2" height="14.9" fill="#7DB0D6"/>
<text x="110.15" y="591.2" font-size="10.1" text-anchor="middle" fill="#333">GAU</text>
<rect x="98.05" y="595.37" width="24.2" height="14.9" fill="#B1DB6C"/>
<text x="110.15" y="606.67" font-size="10.1" text-anchor="middle" fill="#333">GAC</text>
<rect x="125.33" y="520.84" width="24.2" height="34.86" fill="#7DB0D6"/>
<rect x="125.33" y="512.4" width="24.2" height="8.44" fill="#B1DB6C"/>
<line x1="137.43" y1="555.7" x2="137.43" y2="560.4" stroke="#333" stroke-width="1"/>
<text x="136.53" y="572.6" font-size="9.8" text-anchor="middle" fill="#3B4B6C">Glu</text>
<rect x="125.33" y="579.9" width="24.2" height="14.9" fill="#7DB0D6"/>
<text x="137.43" y="591.2" font-size="10.1" text-anchor="middle" fill="#333">GAA</text>
<rect x="125.33" y="595.37" width="24.2" height="14.9" fill="#B1DB6C"/>
<text x="137.43" y="606.67" font-size="10.1" text-anchor="middle" fill="#333">GAG</text>
<rect x="152.6" y="540.98" width="24.2" height="14.72" fill="#7DB0D6"/>
<rect x="152.6" y="512.4" width="24.2" height="28.58" fill="#B1DB6C"/>
<line x1="164.7" y1="555.7" x2="164.7" y2="560.4" stroke="#333" stroke-width="1"/>
<text x="163.8" y="572.6" font-size="9.8" text-anchor="middle" fill="#3B4B6C">Phe</text>
<rect x="152.6" y="579.9" width="24.2" height="14.9" fill="#7DB0D6"/>
<text x="164.7" y="591.2" font-size="10.1" text-anchor="middle" fill="#333">UUU</text>
<rect x="152.6" y="595.37" width="24.2" height="14.9" fill="#B1DB6C"/>
<text x="164.7" y="606.67" font-size="10.1" text-anchor="middle" fill="#333">UUC</text>
<rect x="179.88" y="542.28" width="24.2" height="13.42" fill="#7DB0D6"/>
<rect x="179.88" y="518.68" width="24.2" height="23.6" fill="#B1DB6C"/>
<rect x="179.88" y="479.06" width="24.2" height="39.62" fill="#FF7168"/>
<rect x="179.88" y="468.88" width="24.2" height="10.18" fill="#BEB9DC"/>
<line x1="191.98" y1="555.7" x2="191.98" y2="560.4" stroke="#333" stroke-width="1"/>
<text x="191.08" y="572.6" font-size="9.8" text-anchor="middle" fill="#3B4B6C">Gly</text>
<rect x="179.88" y="579.9" width="24.2" height="14.9" fill="#7DB0D6"/>
<text x="191.98" y="591.2" font-size="10.1" text-anchor="middle" fill="#333">GGU</text>
<rect x="179.88" y="595.37" width="24.2" height="14.9" fill="#B1DB6C"/>
<text x="191.98" y="606.67" font-size="10.1" text-anchor="middle" fill="#333">GGC</text>
<rect x="179.88" y="610.84" width="24.2" height="14.9" fill="#FF7168"/>
<text x="191.98" y="622.14" font-size="10.1" text-anchor="middle" fill="#333">GGA</text>
<rect x="179.88" y="626.31" width="24.2" height="14.9" fill="#BEB9DC"/>
<text x="191.98" y="637.61" font-size="10.1" text-anchor="middle" fill="#333">GGG</text>
<rect x="207.16" y="544.23" width="24.2" height="11.47" fill="#7DB0D6"/>
<rect x="207.16" y="512.4" width="24.2" height="31.83" fill="#B1DB6C"/>
<line x1="219.26" y1="555.7" x2="219.26" y2="560.4" stroke="#333" stroke-width="1"/>
<text x="218.36" y="572.6" font-size="9.8" text-anchor="middle" fill="#3B4B6C">His</text>
<rect x="207.16" y="579.9" width="24.2" height="14.9" fill="#7DB0D6"/>
<text x="219.26" y="591.2" font-size="10.1" text-anchor="middle" fill="#333">CAU</text>
<rect x="207.16" y="595.37" width="24.2" height="14.9" fill="#B1DB6C"/>
<text x="219.26" y="606.67" font-size="10.1" text-anchor="middle" fill="#333">CAC</text>
<rect x="234.43" y="540.76" width="24.2" height="14.94" fill="#7DB0D6"/>
<rect x="234.43" y="512.4" width="24.2" height="28.36" fill="#B1DB6C"/>
<line x1="246.53" y1="555.7" x2="246.53" y2="560.4" stroke="#333" stroke-width="1"/>
<text x="245.63" y="572.6" font-size="9.8" text-anchor="middle" fill="#3B4B6C">Ile</text>
<rect x="234.43" y="579.9" width="24.2" height="14.9" fill="#7DB0D6"/>
<text x="246.53" y="591.2" font-size="10.1" text-anchor="middle" fill="#333">AUU</text>
<rect x="234.43" y="595.37" width="24.2" height="14.9" fill="#B1DB6C"/>
<text x="246.53" y="606.67" font-size="10.1" text-anchor="middle" fill="#333">AUC</text>
<rect x="261.71" y="516.51" width="24.2" height="39.19" fill="#7DB0D6"/>
<rect x="261.71" y="512.4" width="24.2" height="4.11" fill="#B1DB6C"/>
<line x1="273.81" y1="555.7" x2="273.81" y2="560.4" stroke="#333" stroke-width="1"/>
<text x="272.91" y="572.6" font-size="9.8" text-anchor="middle" fill="#3B4B6C">Lys</text>
<rect x="261.71" y="579.9" width="24.2" height="14.9" fill="#7DB0D6"/>
<text x="273.81" y="591.2" font-size="10.1" text-anchor="middle" fill="#333">AAA</text>
<rect x="261.71" y="595.37" width="24.2" height="14.9" fill="#B1DB6C"/>
<text x="273.81" y="606.67" font-size="10.1" text-anchor="middle" fill="#333">AAG</text>
<rect x="288.98" y="539.9" width="24.2" height="15.8" fill="#7DB0D6"/>
<rect x="288.98" y="511.1" width="24.2" height="28.79" fill="#B1DB6C"/>
<rect x="288.98" y="450.48" width="24.2" height="60.62" fill="#FF7168"/>
<rect x="288.98" y="443.12" width="24.2" height="7.36" fill="#BEB9DC"/>
<line x1="301.08" y1="555.7" x2="301.08" y2="560.4" stroke="#333" stroke-width="1"/>
<text x="300.18" y="572.6" font-size="9.8" text-anchor="middle" fill="#3B4B6C">Leu1</text>
<rect x="288.98" y="579.9" width="24.2" height="14.9" fill="#7DB0D6"/>
<text x="301.08" y="591.2" font-size="10.1" text-anchor="middle" fill="#333">CUU</text>
<rect x="288.98" y="595.37" width="24.2" height="14.9" fill="#B1DB6C"/>
<text x="301.08" y="606.67" font-size="10.1" text-anchor="middle" fill="#333">CUC</text>
<rect x="288.98" y="610.84" width="24.2" height="14.9" fill="#FF7168"/>
<text x="301.08" y="622.14" font-size="10.1" text-anchor="middle" fill="#333">CUA</text>
<rect x="288.98" y="626.31" width="24.2" height="14.9" fill="#BEB9DC"/>
<text x="301.08" y="637.61" font-size="10.1" text-anchor="middle" fill="#333">CUG</text>
<rect x="316.26" y="540.98" width="24.2" height="14.72" fill="#7DB0D6"/>
<rect x="316.26" y="537.51" width="24.2" height="3.46" fill="#B1DB6C"/>
<line x1="328.36" y1="555.7" x2="328.36" y2="560.4" stroke="#333" stroke-width="1"/>
<text x="327.46" y="572.6" font-size="9.8" text-anchor="middle" fill="#3B4B6C">Leu2</text>
<rect x="316.26" y="579.9" width="24.2" height="14.9" fill="#7DB0D6"/>
<text x="328.36" y="591.2" font-size="10.1" text-anchor="middle" fill="#333">UUA</text>
<rect x="316.26" y="595.37" width="24.2" height="14.9" fill="#B1DB6C"/>
<text x="328.36" y="606.67" font-size="10.1" text-anchor="middle" fill="#333">UUG</text>
<rect x="343.54" y="520.19" width="24.2" height="35.51" fill="#7DB0D6"/>
<rect x="343.54" y="512.4" width="24.2" height="7.79" fill="#B1DB6C"/>
<line x1="355.64" y1="555.7" x2="355.64" y2="560.4" stroke="#333" stroke-width="1"/>
<text x="354.74" y="572.6" font-size="9.8" text-anchor="middle" fill="#3B4B6C">Met</text>
<rect x="343.54" y="579.9" width="24.2" height="14.9" fill="#7DB0D6"/>
<text x="355.64" y="591.2" font-size="10.1" text-anchor="middle" fill="#333">AUA</text>
<rect x="343.54" y="595.37" width="24.2" height="14.9" fill="#B1DB6C"/>
<text x="355.64" y="606.67" font-size="10.1" text-anchor="middle" fill="#333">AUG</text>
<rect x="370.81" y="545.52" width="24.2" height="10.18" fill="#7DB0D6"/>
<rect x="370.81" y="512.4" width="24.2" height="33.12" fill="#B1DB6C"/>
<line x1="382.91" y1="555.7" x2="382.91" y2="560.4" stroke="#333" stroke-width="1"/>
<text x="382.01" y="572.6" font-size="9.8" text-anchor="middle" fill="#3B4B6C">Asn</text>
<rect x="370.81" y="579.9" width="24.2" height="14.9" fill="#7DB0D6"/>
<text x="382.91" y="591.2" font-size="10.1" text-anchor="middle" fill="#333">AAU</text>
<rect x="370.81" y="595.37" width="24.2" height="14.9" fill="#B1DB6C"/>
<text x="382.91" y="606.67" font-size="10.1" text-anchor="middle" fill="#333">AAC</text>
<rect x="398.09" y="539.03" width="24.2" height="16.67" fill="#7DB0D6"/>
<rect x="398.09" y="506.99" width="24.2" height="32.04" fill="#B1DB6C"/>
<rect x="398.09" y="470.4" width="24.2" height="36.59" fill="#FF7168"/>
<rect x="398.09" y="468.88" width="24.2" height="1.52" fill="#BEB9DC"/>
<line x1="410.19" y1="555.7" x2="410.19" y2="560.4" stroke="#333" stroke-width="1"/>
<text x="409.29" y="572.6" font-size="9.8" text-anchor="middle" fill="#3B4B6C">Pro</text>
<rect x="398.09" y="579.9" width="24.2" height="14.9" fill="#7DB0D6"/>
<text x="410.19" y="591.2" font-size="10.1" text-anchor="middle" fill="#333">CCU</text>
<rect x="398.09" y="595.37" width="24.2" height="14.9" fill="#B1DB6C"/>
<text x="410.19" y="606.67" font-size="10.1" text-anchor="middle" fill="#333">CCC</text>
<rect x="398.09" y="610.84" width="24.2" height="14.9" fill="#FF7168"/>
<text x="410.19" y="622.14" font-size="10.1" text-anchor="middle" fill="#333">CCA</text>
<rect x="398.09" y="626.31" width="24.2" height="14.9" fill="#BEB9DC"/>
<text x="410.19" y="637.61" font-size="10.1" text-anchor="middle" fill="#333">CCG</text>
<rect x="425.36" y="518.68" width="24.2" height="37.02" fill="#7DB0D6"/>
<rect x="425.36" y="512.4" width="24.2" height="6.28" fill="#B1DB6C"/>
<line x1="437.46" y1="555.7" x2="437.46" y2="560.4" stroke="#333" stroke-width="1"/>
<text x="436.56" y="572.6" font-size="9.8" text-anchor="middle" fill="#3B4B6C">Gln</text>
<rect x="425.36" y="579.9" width="24.2" height="14.9" fill="#7DB0D6"/>
<text x="437.46" y="591.2" font-size="10.1" text-anchor="middle" fill="#333">CAA</text>
<rect x="425.36" y="595.37" width="24.2" height="14.9" fill="#B1DB6C"/>
<text x="437.46" y="606.67" font-size="10.1" text-anchor="middle" fill="#333">CAG</text>
<rect x="452.64" y="547.47" width="24.2" height="8.23" fill="#7DB0D6"/>
<rect x="452.64" y="521.49" width="24.2" height="25.98" fill="#B1DB6C"/>
<rect x="452.64" y="472.56" width="24.2" height="48.93" fill="#FF7168"/>
<rect x="452.64" y="468.88" width="24.2" height="3.68" fill="#BEB9DC"/>
<line x1="464.74" y1="555.7" x2="464.74" y2="560.4" stroke="#333" stroke-width="1"/>
<text x="463.84" y="572.6" font-size="9.8" text-anchor="middle" fill="#3B4B6C">Arg</text>
<rect x="452.64" y="579.9" width="24.2" height="14.9" fill="#7DB0D6"/>
<text x="464.74" y="591.2" font-size="10.1" text-anchor="middle" fill="#333">CGU</text>
<rect x="452.64" y="595.37" width="24.2" height="14.9" fill="#B1DB6C"/>
<text x="464.74" y="606.67" font-size="10.1" text-anchor="middle" fill="#333">CGC</text>
<rect x="452.64" y="610.84" width="24.2" height="14.9" fill="#FF7168"/>
<text x="464.74" y="622.14" font-size="10.1" text-anchor="middle" fill="#333">CGA</text>
<rect x="452.64" y="626.31" width="24.2" height="14.9" fill="#BEB9DC"/>
<text x="464.74" y="637.61" font-size="10.1" text-anchor="middle" fill="#333">CGG</text>
<rect x="479.92" y="550.29" width="24.2" height="5.41" fill="#7DB0D6"/>
<rect x="479.92" y="528.2" width="24.2" height="22.08" fill="#B1DB6C"/>
<line x1="492.02" y1="555.7" x2="492.02" y2="560.4" stroke="#333" stroke-width="1"/>
<text x="491.12" y="572.6" font-size="9.8" text-anchor="middle" fill="#3B4B6C">Ser1</text>
<rect x="479.92" y="579.9" width="24.2" height="14.9" fill="#7DB0D6"/>
<text x="492.02" y="591.2" font-size="10.1" text-anchor="middle" fill="#333">AGU</text>
<rect x="479.92" y="595.37" width="24.2" height="14.9" fill="#B1DB6C"/>
<text x="492.02" y="606.67" font-size="10.1" text-anchor="middle" fill="#333">AGC</text>
<rect x="507.19" y="540.98" width="24.2" height="14.72" fill="#7DB0D6"/>
<rect x="507.19" y="508.5" width="24.2" height="32.48" fill="#B1DB6C"/>
<rect x="507.19" y="457.41" width="24.2" height="51.09" fill="#FF7168"/>
<rect x="507.19" y="452.43" width="24.2" height="4.98" fill="#BEB9DC"/>
<line x1="519.29" y1="555.7" x2="519.29" y2="560.4" stroke="#333" stroke-width="1"/>
<text x="518.39" y="572.6" font-size="9.8" text-anchor="middle" fill="#3B4B6C">Ser2</text>
<rect x="507.19" y="579.9" width="24.2" height="14.9" fill="#7DB0D6"/>
<text x="519.29" y="591.2" font-size="10.1" text-anchor="middle" fill="#333">UCU</text>
<rect x="507.19" y="595.37" width="24.2" height="14.9" fill="#B1DB6C"/>
<text x="519.29" y="606.67" font-size="10.1" text-anchor="middle" fill="#333">UCC</text>
<rect x="507.19" y="610.84" width="24.2" height="14.9" fill="#FF7168"/>
<text x="519.29" y="622.14" font-size="10.1" text-anchor="middle" fill="#333">UCA</text>
<rect x="507.19" y="626.31" width="24.2" height="14.9" fill="#BEB9DC"/>
<text x="519.29" y="637.61" font-size="10.1" text-anchor="middle" fill="#333">UCG</text>
<rect x="534.47" y="540.55" width="24.2" height="15.15" fill="#7DB0D6"/>
<rect x="534.47" y="511.53" width="24.2" height="29.01" fill="#B1DB6C"/>
<rect x="534.47" y="474.51" width="24.2" height="37.02" fill="#FF7168"/>
<rect x="534.47" y="468.88" width="24.2" height="5.63" fill="#BEB9DC"/>
<line x1="546.57" y1="555.7" x2="546.57" y2="560.4" stroke="#333" stroke-width="1"/>
<text x="545.67" y="572.6" font-size="9.8" text-anchor="middle" fill="#3B4B6C">Thr</text>
<rect x="534.47" y="579.9" width="24.2" height="14.9" fill="#7DB0D6"/>
<text x="546.57" y="591.2" font-size="10.1" text-anchor="middle" fill="#333">ACU</text>
<rect x="534.47" y="595.37" width="24.2" height="14.9" fill="#B1DB6C"/>
<text x="546.57" y="606.67" font-size="10.1" text-anchor="middle" fill="#333">ACC</text>
<rect x="534.47" y="610.84" width="24.2" height="14.9" fill="#FF7168"/>
<text x="546.57" y="622.14" font-size="10.1" text-anchor="middle" fill="#333">ACA</text>
<rect x="534.47" y="626.31" width="24.2" height="14.9" fill="#BEB9DC"/>
<text x="546.57" y="637.61" font-size="10.1" text-anchor="middle" fill="#333">ACG</text>
<rect x="561.74" y="536.43" width="24.2" height="19.27" fill="#7DB0D6"/>
<rect x="561.74" y="516.3" width="24.2" height="20.13" fill="#B1DB6C"/>
<rect x="561.74" y="481.01" width="24.2" height="35.29" fill="#FF7168"/>
<rect x="561.74" y="468.88" width="24.2" height="12.12" fill="#BEB9DC"/>
<line x1="573.84" y1="555.7" x2="573.84" y2="560.4" stroke="#333" stroke-width="1"/>
<text x="572.94" y="572.6" font-size="9.8" text-anchor="middle" fill="#3B4B6C">Val</text>
<rect x="561.74" y="579.9" width="24.2" height="14.9" fill="#7DB0D6"/>
<text x="573.84" y="591.2" font-size="10.1" text-anchor="middle" fill="#333">GUU</text>
<rect x="561.74" y="595.37" width="24.2" height="14.9" fill="#B1DB6C"/>
<text x="573.84" y="606.67" font-size="10.1" text-anchor="middle" fill="#333">GUC</text>
<rect x="561.74" y="610.84" width="24.2" height="14.9" fill="#FF7168"/>
<text x="573.84" y="622.14" font-size="10.1" text-anchor="middle" fill="#333">GUA</text>
<rect x="561.74" y="626.31" width="24.2" height="14.9" fill="#BEB9DC"/>
<text x="573.84" y="637.61" font-size="10.1" text-anchor="middle" fill="#333">GUG</text>
<rect x="589.02" y="515.65" width="24.2" height="40.05" fill="#7DB0D6"/>
<rect x="589.02" y="512.4" width="24.2" height="3.25" fill="#B1DB6C"/>
<line x1="601.12" y1="555.7" x2="601.12" y2="560.4" stroke="#333" stroke-width="1"/>
<text x="600.22" y="572.6" font-size="9.8" text-anchor="middle" fill="#3B4B6C">Trp</text>
<rect x="589.02" y="579.9" width="24.2" height="14.9" fill="#7DB0D6"/>
<text x="601.12" y="591.2" font-size="10.1" text-anchor="middle" fill="#333">UGA</text>
<rect x="589.02" y="595.37" width="24.2" height="14.9" fill="#B1DB6C"/>
<text x="601.12" y="606.67" font-size="10.1" text-anchor="middle" fill="#333">UGG</text>
<rect x="616.3" y="538.16" width="24.2" height="17.54" fill="#7DB0D6"/>
<rect x="616.3" y="512.4" width="24.2" height="25.76" fill="#B1DB6C"/>
<line x1="628.4" y1="555.7" x2="628.4" y2="560.4" stroke="#333" stroke-width="1"/>
<text x="627.5" y="572.6" font-size="9.8" text-anchor="middle" fill="#3B4B6C">Tyr</text>
<rect x="616.3" y="579.9" width="24.2" height="14.9" fill="#7DB0D6"/>
<text x="628.4" y="591.2" font-size="10.1" text-anchor="middle" fill="#333">UAU</text>
<rect x="616.3" y="595.37" width="24.2" height="14.9" fill="#B1DB6C"/>
<text x="628.4" y="606.67" font-size="10.1" text-anchor="middle" fill="#333">UAC</text>
<line x1="41.9" y1="426.2" x2="41.9" y2="556.2" stroke="#222" stroke-width="1"/>
<line x1="41.4" y1="556.1" x2="641.6" y2="556.1" stroke="#555" stroke-width="1.3"/>
<line x1="37.8" y1="555.7" x2="41.9" y2="555.7" stroke="#333" stroke-width="1"/>
<text x="33.8" y="559.2" font-size="10" text-anchor="end" fill="#3B4B6C">0</text>
<line x1="37.8" y1="512.4" x2="41.9" y2="512.4" stroke="#333" stroke-width="1"/>
<text x="33.8" y="515.9" font-size="10" text-anchor="end" fill="#3B4B6C">2</text>
<line x1="37.8" y1="469.1" x2="41.9" y2="469.1" stroke="#333" stroke-width="1"/>
<text x="33.8" y="472.6" font-size="10" text-anchor="end" fill="#3B4B6C">4</text>
<text transform="translate(21.3,505.7) rotate(-90)" font-size="11" text-anchor="middle" fill="#3B4B6C">RSCU</text>
<rect x="40.74" y="922.1" width="18.5" height="6.2" fill="#EE4D4A"/>
<rect x="59.24" y="733.6" width="18.5" height="194.7" fill="#6AC4E0"/>
<text x="62.64" y="941.6" font-size="11" font-style="italic" text-anchor="middle" fill="#1a1a1a">atp6</text>
<rect x="84.43" y="908.7" width="18.5" height="19.6" fill="#EE4D4A"/>
<rect x="102.93" y="805.2" width="18.5" height="123.1" fill="#6AC4E0"/>
<text x="106.33" y="941.6" font-size="11" font-style="italic" text-anchor="middle" fill="#1a1a1a">atp8</text>
<line x1="81.08" y1="928.3" x2="81.08" y2="931.3" stroke="#333" stroke-width="1"/>
<rect x="128.11" y="927" width="18.5" height="1.3" fill="#EE4D4A"/>
<rect x="146.61" y="752.1" width="18.5" height="176.2" fill="#6AC4E0"/>
<text x="150.01" y="941.6" font-size="11" font-style="italic" text-anchor="middle" fill="#1a1a1a">cox1</text>
<line x1="124.77" y1="928.3" x2="124.77" y2="931.3" stroke="#333" stroke-width="1"/>
<rect x="171.8" y="926.6" width="18.5" height="1.7" fill="#EE4D4A"/>
<rect x="190.3" y="761.9" width="18.5" height="166.4" fill="#6AC4E0"/>
<text x="193.7" y="941.6" font-size="11" font-style="italic" text-anchor="middle" fill="#1a1a1a">cox2</text>
<line x1="168.45" y1="928.3" x2="168.45" y2="931.3" stroke="#333" stroke-width="1"/>
<rect x="215.48" y="927" width="18.5" height="1.3" fill="#EE4D4A"/>
<rect x="233.98" y="778.1" width="18.5" height="150.2" fill="#6AC4E0"/>
<text x="237.38" y="941.6" font-size="11" font-style="italic" text-anchor="middle" fill="#1a1a1a">cox3</text>
<line x1="212.14" y1="928.3" x2="212.14" y2="931.3" stroke="#333" stroke-width="1"/>
<rect x="259.17" y="926.1" width="18.5" height="2.2" fill="#EE4D4A"/>
<rect x="277.67" y="737.8" width="18.5" height="190.5" fill="#6AC4E0"/>
<text x="281.07" y="941.6" font-size="11" font-style="italic" text-anchor="middle" fill="#1a1a1a">cytb</text>
<line x1="255.82" y1="928.3" x2="255.82" y2="931.3" stroke="#333" stroke-width="1"/>
<rect x="302.85" y="924.6" width="18.5" height="3.7" fill="#EE4D4A"/>
<rect x="321.35" y="748" width="18.5" height="180.3" fill="#6AC4E0"/>
<text x="324.75" y="941.6" font-size="11" font-style="italic" text-anchor="middle" fill="#1a1a1a">nad1</text>
<line x1="299.51" y1="928.3" x2="299.51" y2="931.3" stroke="#333" stroke-width="1"/>
<rect x="346.53" y="917.2" width="18.5" height="11.1" fill="#EE4D4A"/>
<rect x="365.03" y="775.3" width="18.5" height="153" fill="#6AC4E0"/>
<text x="368.43" y="941.6" font-size="11" font-style="italic" text-anchor="middle" fill="#1a1a1a">nad2</text>
<line x1="343.19" y1="928.3" x2="343.19" y2="931.3" stroke="#333" stroke-width="1"/>
<rect x="390.22" y="926.7" width="18.5" height="1.6" fill="#EE4D4A"/>
<rect x="408.72" y="769.4" width="18.5" height="158.9" fill="#6AC4E0"/>
<text x="412.12" y="941.6" font-size="11" font-style="italic" text-anchor="middle" fill="#1a1a1a">nad3</text>
<line x1="386.88" y1="928.3" x2="386.88" y2="931.3" stroke="#333" stroke-width="1"/>
<rect x="433.9" y="923.1" width="18.5" height="5.2" fill="#EE4D4A"/>
<rect x="452.4" y="746.8" width="18.5" height="181.5" fill="#6AC4E0"/>
<text x="455.8" y="941.6" font-size="11" font-style="italic" text-anchor="middle" fill="#1a1a1a">nad4</text>
<line x1="430.56" y1="928.3" x2="430.56" y2="931.3" stroke="#333" stroke-width="1"/>
<rect x="477.59" y="919.6" width="18.5" height="8.7" fill="#EE4D4A"/>
<rect x="496.09" y="745.8" width="18.5" height="182.5" fill="#6AC4E0"/>
<text x="499.49" y="941.6" font-size="11" font-style="italic" text-anchor="middle" fill="#1a1a1a">nad4L</text>
<line x1="474.25" y1="928.3" x2="474.25" y2="931.3" stroke="#333" stroke-width="1"/>
<rect x="521.27" y="908.1" width="18.5" height="20.2" fill="#EE4D4A"/>
<rect x="539.77" y="717.1" width="18.5" height="211.2" fill="#6AC4E0"/>
<text x="543.17" y="941.6" font-size="11" font-style="italic" text-anchor="middle" fill="#1a1a1a">nad5</text>
<line x1="517.93" y1="928.3" x2="517.93" y2="931.3" stroke="#333" stroke-width="1"/>
<rect x="564.96" y="917.1" width="18.5" height="11.2" fill="#EE4D4A"/>
<rect x="583.46" y="784.8" width="18.5" height="143.5" fill="#6AC4E0"/>
<text x="586.86" y="941.6" font-size="11" font-style="italic" text-anchor="middle" fill="#1a1a1a">nad6</text>
<line x1="561.62" y1="928.3" x2="561.62" y2="931.3" stroke="#333" stroke-width="1"/>
<polyline points="59.24,894.4 102.93,747.9 146.61,924.8 190.3,921.8 233.98,924.4 277.67,917.4 321.35,907.1 365.03,846.5 408.72,918.3 452.4,896.2 496.09,873.4 539.77,819.8 583.46,838.5" fill="none" stroke="#F5B700" stroke-width="2.6" stroke-linejoin="round"/>
<ellipse cx="59.24" cy="894.4" rx="2.8" ry="1.7" fill="#8DC63F" stroke="#5DB531" stroke-width="0.9"/>
<ellipse cx="102.93" cy="747.9" rx="2.8" ry="1.7" fill="#8DC63F" stroke="#5DB531" stroke-width="0.9"/>
<ellipse cx="146.61" cy="924.8" rx="2.8" ry="1.7" fill="#8DC63F" stroke="#5DB531" stroke-width="0.9"/>
<ellipse cx="190.3" cy="921.8" rx="2.8" ry="1.7" fill="#8DC63F" stroke="#5DB531" stroke-width="0.9"/>
<ellipse cx="233.98" cy="924.4" rx="2.8" ry="1.7" fill="#8DC63F" stroke="#5DB531" stroke-width="0.9"/>
<ellipse cx="277.67" cy="917.4" rx="2.8" ry="1.7" fill="#8DC63F" stroke="#5DB531" stroke-width="0.9"/>
<ellipse cx="321.35" cy="907.1" rx="2.8" ry="1.7" fill="#8DC63F" stroke="#5DB531" stroke-width="0.9"/>
<ellipse cx="365.03" cy="846.5" rx="2.8" ry="1.7" fill="#8DC63F" stroke="#5DB531" stroke-width="0.9"/>
<ellipse cx="408.72" cy="918.3" rx="2.8" ry="1.7" fill="#8DC63F" stroke="#5DB531" stroke-width="0.9"/>
<ellipse cx="452.4" cy="896.2" rx="2.8" ry="1.7" fill="#8DC63F" stroke="#5DB531" stroke-width="0.9"/>
<ellipse cx="496.09" cy="873.4" rx="2.8" ry="1.7" fill="#8DC63F" stroke="#5DB531" stroke-width="0.9"/>
<ellipse cx="539.77" cy="819.8" rx="2.8" ry="1.7" fill="#8DC63F" stroke="#5DB531" stroke-width="0.9"/>
<ellipse cx="583.46" cy="838.5" rx="2.8" ry="1.7" fill="#8DC63F" stroke="#5DB531" stroke-width="0.9"/>
<line x1="37.4" y1="700.8" x2="37.4" y2="930.7" stroke="#222" stroke-width="1"/>
<line x1="605.3" y1="700.8" x2="605.3" y2="930.7" stroke="#222" stroke-width="1"/>
<line x1="33.2" y1="928.3" x2="609.6" y2="928.3" stroke="#7a7a7a" stroke-width="1.3"/>
<line x1="33.2" y1="928.3" x2="37.4" y2="928.3" stroke="#333" stroke-width="1"/>
<text x="30.4" y="929.5" font-size="11" text-anchor="end" fill="#222">0</text>
<line x1="33.2" y1="890.38" x2="37.4" y2="890.38" stroke="#333" stroke-width="1"/>
<text x="30.4" y="891.59" font-size="11" text-anchor="end" fill="#222">0.05</text>
<line x1="33.2" y1="852.47" x2="37.4" y2="852.47" stroke="#333" stroke-width="1"/>
<text x="30.4" y="853.67" font-size="11" text-anchor="end" fill="#222">0.1</text>
<line x1="33.2" y1="814.55" x2="37.4" y2="814.55" stroke="#333" stroke-width="1"/>
<text x="30.4" y="815.75" font-size="11" text-anchor="end" fill="#222">0.15</text>
<line x1="33.2" y1="776.64" x2="37.4" y2="776.64" stroke="#333" stroke-width="1"/>
<text x="30.4" y="777.84" font-size="11" text-anchor="end" fill="#222">0.2</text>
<line x1="33.2" y1="738.72" x2="37.4" y2="738.72" stroke="#333" stroke-width="1"/>
<text x="30.4" y="739.92" font-size="11" text-anchor="end" fill="#222">0.25</text>
<line x1="33.2" y1="700.81" x2="37.4" y2="700.81" stroke="#333" stroke-width="1"/>
<text x="30.4" y="702.01" font-size="11" text-anchor="end" fill="#222">0.3</text>
<line x1="605.3" y1="928.3" x2="609.3" y2="928.3" stroke="#333" stroke-width="1"/>
<text x="613.2" y="929.5" font-size="11" fill="#222">0</text>
<line x1="605.3" y1="871.43" x2="609.3" y2="871.43" stroke="#333" stroke-width="1"/>
<text x="613.2" y="872.63" font-size="11" fill="#222">0.005</text>
<line x1="605.3" y1="814.55" x2="609.3" y2="814.55" stroke="#333" stroke-width="1"/>
<text x="613.2" y="815.75" font-size="11" fill="#222">0.01</text>
<line x1="605.3" y1="757.68" x2="609.3" y2="757.68" stroke="#333" stroke-width="1"/>
<text x="613.2" y="758.88" font-size="11" fill="#222">0.015</text>
<line x1="605.3" y1="700.81" x2="609.3" y2="700.81" stroke="#333" stroke-width="1"/>
<text x="613.2" y="702.01" font-size="11" fill="#222">0.02</text>
<rect x="53.5" y="691.1" width="23.5" height="13.2" rx="3.5" fill="#EF4F4A"/>
<rect x="53.5" y="709.4" width="23.5" height="13.2" rx="3.5" fill="#45B6DB"/>
<text x="83" y="701.6" font-size="11" fill="#333">Ka</text>
<text x="83" y="720.3" font-size="11" fill="#333">Ks</text>
<text x="539.6" y="701" font-size="11" fill="#333">Ka/Ks</text>
<line x1="573.6" y1="697.3" x2="596.7" y2="697.3" stroke="#F5B700" stroke-width="2.6"/>
<circle cx="584.2" cy="697.3" r="3.3" fill="#fff" stroke="#5DB531" stroke-width="1.4"/>
</svg>
</body></html>
